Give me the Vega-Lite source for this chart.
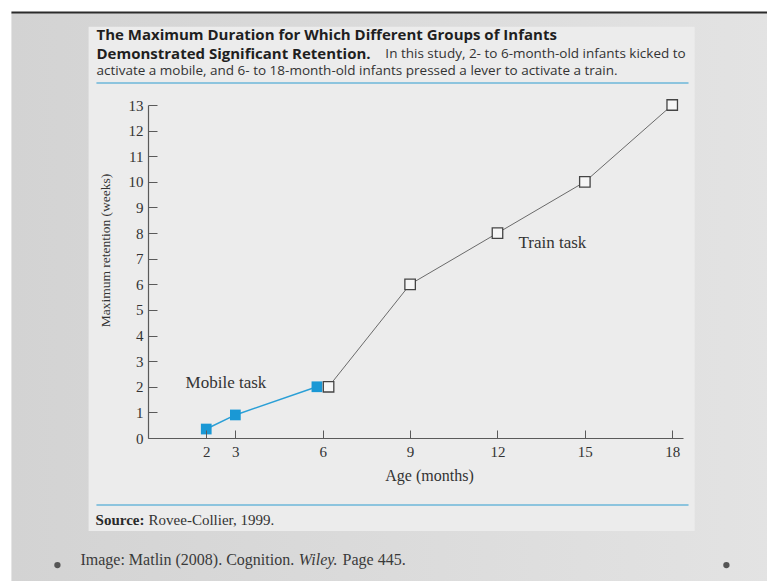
{
  "$schema": "https://vega.github.io/schema/vega-lite/v6.json",
  "width": 535,
  "height": 333,
  "autosize": {"type": "none"},
  "padding": {"left": 148, "top": 105, "right": 84, "bottom": 143},
  "background": "#ffffff",
  "config": {"view": {"stroke": null}},
  "datasets": {
    "retention": [
      {"task": "Mobile", "age": 2, "weeks": 0.35},
      {"task": "Mobile", "age": 3, "weeks": 0.9},
      {"task": "Mobile", "age": 5.8, "weeks": 2},
      {"task": "Train", "age": 6.2, "weeks": 2},
      {"task": "Train", "age": 9, "weeks": 6},
      {"task": "Train", "age": 12, "weeks": 8},
      {"task": "Train", "age": 15, "weeks": 10},
      {"task": "Train", "age": 18, "weeks": 13}
    ]
  },
  "data": {"name": "retention"},
  "layer": [
    {
      "mark": {"type": "line", "strokeOpacity": 0},
      "encoding": {
        "x": {"field": "age", "type": "quantitative", "title": "Age (months)", "scale": {"domain": [0, 18.37], "nice": false, "zero": false},
              "axis": {"orient": "bottom", "format": "d", "zindex": 2, "grid": false, "values": [2, 3, 6, 9, 12, 15, 18], "tickCount": 20, "tickSize": -8, "labelPadding": 14, "titlePadding": 8, "titleX": 281,
                       "domainColor": "#5a5a5a", "domainWidth": 1.2, "tickColor": "#5a5a5a", "labelFont": "Liberation Serif", "labelFontSize": 15, "labelColor": "#333333",
                       "titleFont": "Liberation Serif", "titleFontWeight": "normal", "titleFontSize": 16, "titleColor": "#333333"}},
        "y": {"field": "weeks", "type": "quantitative", "title": "Maximum retention (weeks)", "scale": {"domain": [0, 13], "nice": false, "zero": false},
              "axis": {"orient": "left", "format": "d", "zindex": 2, "grid": false, "values": [0, 1, 2, 3, 4, 5, 6, 7, 8, 9, 10, 11, 12, 13], "tickCount": 20, "labelOverlap": false, "tickSize": -9, "labelPadding": 14, "titlePadding": 16, "titleY": 145,
                       "domainColor": "#5a5a5a", "domainWidth": 1.2, "tickColor": "#5a5a5a", "labelFont": "Liberation Serif", "labelFontSize": 15, "labelColor": "#333333",
                       "titleFont": "Liberation Serif", "titleFontWeight": "normal", "titleFontSize": 13.5, "titleColor": "#333333"}}
      }
    },
    {
      "transform": [{"filter": "datum.age === 18"}],
      "mark": {"type": "rect", "fill": {"gradient": "linear", "x1": 0, "y1": 0, "x2": 1, "y2": 0, "stops": [{"offset": 0, "color": "#d3d3d3"}, {"offset": 1, "color": "#e3e3e3"}]}},
      "encoding": {
        "x": {"datum": -4.69, "type": "quantitative", "scale": {"domain": [0, 18.37], "nice": false, "zero": false}},
        "x2": {"datum": 21.5},
        "y": {"datum": 16.59, "type": "quantitative", "scale": {"domain": [0, 13], "nice": false, "zero": false}},
        "y2": {"datum": -6}
      }
    },
    {
      "transform": [{"filter": "datum.age === 18"}],
      "mark": {"type": "rule", "color": "#2b2b2b", "strokeWidth": 2},
      "encoding": {
        "x": {"datum": -4.69, "type": "quantitative", "scale": {"domain": [0, 18.37], "nice": false, "zero": false}},
        "x2": {"datum": 21.5},
        "y": {"datum": 16.61, "type": "quantitative", "scale": {"domain": [0, 13], "nice": false, "zero": false}}
      }
    },
    {
      "transform": [{"filter": "datum.age === 18"}],
      "mark": {"type": "rect", "fill": "#ececec"},
      "encoding": {
        "x": {"datum": -2.04, "type": "quantitative", "scale": {"domain": [0, 18.37], "nice": false, "zero": false}},
        "x2": {"datum": 18.77},
        "y": {"datum": 16.05, "type": "quantitative", "scale": {"domain": [0, 13], "nice": false, "zero": false}},
        "y2": {"datum": -3.63}
      }
    },
    {
      "transform": [{"filter": "datum.age === 18"}],
      "mark": {"type": "rule", "color": "#8cc4de", "strokeWidth": 2},
      "encoding": {
        "x": {"datum": -1.77, "type": "quantitative", "scale": {"domain": [0, 18.37], "nice": false, "zero": false}},
        "x2": {"datum": 18.56},
        "y": {"datum": 13.86, "type": "quantitative", "scale": {"domain": [0, 13], "nice": false, "zero": false}}
      }
    },
    {
      "transform": [{"filter": "datum.age === 18"}],
      "mark": {"type": "rule", "color": "#8cc4de", "strokeWidth": 2},
      "encoding": {
        "x": {"datum": -1.77, "type": "quantitative", "scale": {"domain": [0, 18.37], "nice": false, "zero": false}},
        "x2": {"datum": 18.56},
        "y": {"datum": -2.62, "type": "quantitative", "scale": {"domain": [0, 13], "nice": false, "zero": false}}
      }
    },
    {
      "transform": [{"filter": "datum.age === 18"}],
      "mark": {"type": "text", "text": "The Maximum Duration for Which Different Groups of Infants", "font": "Open Sans", "fontWeight": "bold", "fontSize": 15, "color": "#1f1f1f", "align": "left", "baseline": "middle"},
      "encoding": {
        "x": {"datum": -1.77, "type": "quantitative", "scale": {"domain": [0, 18.37], "nice": false, "zero": false}},
        "y": {"datum": 15.72, "type": "quantitative", "scale": {"domain": [0, 13], "nice": false, "zero": false}}
      }
    },
    {
      "transform": [{"filter": "datum.age === 18"}],
      "mark": {"type": "text", "text": "Demonstrated Significant Retention.", "font": "Open Sans", "fontWeight": "bold", "fontSize": 15, "color": "#1f1f1f", "align": "left", "baseline": "middle"},
      "encoding": {
        "x": {"datum": -1.77, "type": "quantitative", "scale": {"domain": [0, 18.37], "nice": false, "zero": false}},
        "y": {"datum": 15.0, "type": "quantitative", "scale": {"domain": [0, 13], "nice": false, "zero": false}}
      }
    },
    {
      "transform": [{"filter": "datum.age === 18"}],
      "mark": {"type": "text", "text": "In this study, 2- to 6-month-old infants kicked to", "font": "Open Sans", "fontSize": 13.5, "color": "#333333", "align": "left", "baseline": "middle"},
      "encoding": {
        "x": {"datum": 8.15, "type": "quantitative", "scale": {"domain": [0, 18.37], "nice": false, "zero": false}},
        "y": {"datum": 15.0, "type": "quantitative", "scale": {"domain": [0, 13], "nice": false, "zero": false}}
      }
    },
    {
      "transform": [{"filter": "datum.age === 18"}],
      "mark": {"type": "text", "text": "activate a mobile, and 6- to 18-month-old infants pressed a lever to activate a train.", "font": "Open Sans", "fontSize": 13.5, "color": "#333333", "align": "left", "baseline": "middle"},
      "encoding": {
        "x": {"datum": -1.77, "type": "quantitative", "scale": {"domain": [0, 18.37], "nice": false, "zero": false}},
        "y": {"datum": 14.31, "type": "quantitative", "scale": {"domain": [0, 13], "nice": false, "zero": false}}
      }
    },
    {
      "transform": [{"filter": "datum.age === 18"}],
      "mark": {"type": "text", "text": "Mobile task", "font": "Liberation Serif", "fontSize": 17, "color": "#333333", "align": "left", "baseline": "middle"},
      "encoding": {
        "x": {"datum": 1.29, "type": "quantitative", "scale": {"domain": [0, 18.37], "nice": false, "zero": false}},
        "y": {"datum": 2.15, "type": "quantitative", "scale": {"domain": [0, 13], "nice": false, "zero": false}}
      }
    },
    {
      "transform": [{"filter": "datum.age === 18"}],
      "mark": {"type": "text", "text": "Train task", "font": "Liberation Serif", "fontSize": 17, "color": "#333333", "align": "left", "baseline": "middle"},
      "encoding": {
        "x": {"datum": 12.72, "type": "quantitative", "scale": {"domain": [0, 18.37], "nice": false, "zero": false}},
        "y": {"datum": 7.61, "type": "quantitative", "scale": {"domain": [0, 13], "nice": false, "zero": false}}
      }
    },
    {
      "transform": [{"filter": "datum.age === 18"}],
      "mark": {"type": "text", "text": "Source:", "font": "Liberation Serif", "fontSize": 15, "fontWeight": "bold", "align": "left", "baseline": "middle", "color": "#2a2a2a"},
      "encoding": {
        "x": {"datum": -1.8, "type": "quantitative", "scale": {"domain": [0, 18.37], "nice": false, "zero": false}},
        "y": {"datum": -3.2, "type": "quantitative", "scale": {"domain": [0, 13], "nice": false, "zero": false}}
      }
    },
    {
      "transform": [{"filter": "datum.age === 18"}],
      "mark": {"type": "text", "text": "Rovee-Collier, 1999.", "font": "Liberation Serif", "fontSize": 15, "color": "#333333", "align": "left", "baseline": "middle"},
      "encoding": {
        "x": {"datum": 0.02, "type": "quantitative", "scale": {"domain": [0, 18.37], "nice": false, "zero": false}},
        "y": {"datum": -3.2, "type": "quantitative", "scale": {"domain": [0, 13], "nice": false, "zero": false}}
      }
    },
    {
      "transform": [{"filter": "datum.age === 18"}],
      "mark": {"type": "text", "text": "Image: Matlin (2008). Cognition.", "font": "Liberation Serif", "fontSize": 16, "align": "left", "baseline": "middle", "color": "#3a3a3a"},
      "encoding": {
        "x": {"datum": -2.32, "type": "quantitative", "scale": {"domain": [0, 18.37], "nice": false, "zero": false}},
        "y": {"datum": -4.76, "type": "quantitative", "scale": {"domain": [0, 13], "nice": false, "zero": false}}
      }
    },
    {
      "transform": [{"filter": "datum.age === 18"}],
      "mark": {"type": "text", "text": "Wiley.", "font": "Liberation Serif", "fontSize": 16, "fontStyle": "italic", "align": "left", "baseline": "middle", "color": "#3a3a3a"},
      "encoding": {
        "x": {"datum": 5.18, "type": "quantitative", "scale": {"domain": [0, 18.37], "nice": false, "zero": false}},
        "y": {"datum": -4.76, "type": "quantitative", "scale": {"domain": [0, 13], "nice": false, "zero": false}}
      }
    },
    {
      "transform": [{"filter": "datum.age === 18"}],
      "mark": {"type": "text", "text": "Page 445.", "font": "Liberation Serif", "fontSize": 16, "align": "left", "baseline": "middle", "color": "#3a3a3a"},
      "encoding": {
        "x": {"datum": 6.68, "type": "quantitative", "scale": {"domain": [0, 18.37], "nice": false, "zero": false}},
        "y": {"datum": -4.76, "type": "quantitative", "scale": {"domain": [0, 13], "nice": false, "zero": false}}
      }
    },
    {
      "transform": [{"filter": "datum.age === 18"}],
      "mark": {"type": "circle", "size": 40, "color": "#555555", "opacity": 1},
      "encoding": {
        "x": {"datum": -3.11, "type": "quantitative", "scale": {"domain": [0, 18.37], "nice": false, "zero": false}},
        "y": {"datum": -4.96, "type": "quantitative", "scale": {"domain": [0, 13], "nice": false, "zero": false}}
      }
    },
    {
      "transform": [{"filter": "datum.age === 18"}],
      "mark": {"type": "circle", "size": 40, "color": "#555555", "opacity": 1},
      "encoding": {
        "x": {"datum": 19.86, "type": "quantitative", "scale": {"domain": [0, 18.37], "nice": false, "zero": false}},
        "y": {"datum": -4.96, "type": "quantitative", "scale": {"domain": [0, 13], "nice": false, "zero": false}}
      }
    },
    {
      "transform": [{"filter": "datum.task === 'Mobile'"}],
      "mark": {"type": "line", "color": "#2a9fd6", "strokeWidth": 1.5},
      "encoding": {
        "x": {"field": "age", "type": "quantitative", "scale": {"domain": [0, 18.37], "nice": false, "zero": false}},
        "y": {"field": "weeks", "type": "quantitative", "scale": {"domain": [0, 13], "nice": false, "zero": false}}
      }
    },
    {
      "transform": [{"filter": "datum.task === 'Mobile'"}],
      "mark": {"type": "square", "size": 115, "color": "#1a98d5", "opacity": 1, "filled": true},
      "encoding": {
        "x": {"field": "age", "type": "quantitative", "scale": {"domain": [0, 18.37], "nice": false, "zero": false}},
        "y": {"field": "weeks", "type": "quantitative", "scale": {"domain": [0, 13], "nice": false, "zero": false}}
      }
    },
    {
      "transform": [{"filter": "datum.task === 'Train'"}],
      "mark": {"type": "line", "color": "#6a6a6a", "strokeWidth": 1},
      "encoding": {
        "x": {"field": "age", "type": "quantitative", "scale": {"domain": [0, 18.37], "nice": false, "zero": false}},
        "y": {"field": "weeks", "type": "quantitative", "scale": {"domain": [0, 13], "nice": false, "zero": false}}
      }
    },
    {
      "transform": [{"filter": "datum.task === 'Train'"}],
      "mark": {"type": "square", "size": 110, "filled": true, "fill": "#f6f6f6", "stroke": "#444444", "strokeWidth": 1.3, "opacity": 1},
      "encoding": {
        "x": {"field": "age", "type": "quantitative", "scale": {"domain": [0, 18.37], "nice": false, "zero": false}},
        "y": {"field": "weeks", "type": "quantitative", "scale": {"domain": [0, 13], "nice": false, "zero": false}}
      }
    }
  ]
}
